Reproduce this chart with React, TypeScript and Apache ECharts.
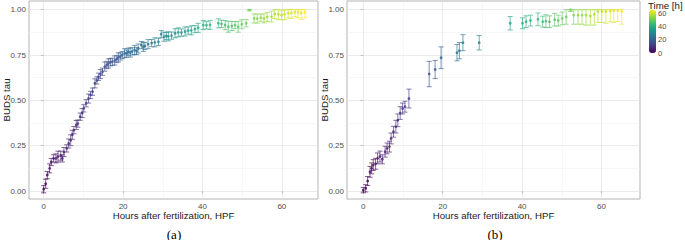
import React, { useEffect, useRef } from 'react';
import * as echarts from 'echarts';

// ---- Panel (a) data: hours after fertilization, BUDS tau, error half-width
const hoursA = [0, 0.5, 0.9, 1.5, 1.9, 2.5, 3.1, 3.6, 4.3, 4.7, 5.1, 5.8, 6.3, 6.8, 7.2, 7.6, 8.2, 8.6, 9.2, 9.7, 10.1, 10.7, 11.3, 11.8, 12.3, 12.9, 13.4, 13.8, 14.3, 14.8, 15.4, 15.9, 16.3, 16.8, 17.3, 17.9, 18.4, 18.8, 19.3, 19.8, 20.4, 20.9, 21.3, 21.8, 22.3, 22.9, 23.4, 23.8, 24.6, 25.1, 25.5, 26.3, 27.2, 28.0, 28.9, 29.6, 30.3, 30.9, 31.4, 32.2, 33.1, 33.9, 34.7, 35.6, 36.4, 37.2, 38.1, 38.9, 40.2, 41.0, 41.9, 44.0, 44.8, 45.7, 46.5, 47.4, 48.2, 49.0, 49.9, 51.0, 51.8, 53.0, 53.8, 54.7, 55.5, 56.3, 57.4, 58.2, 59.1, 59.9, 60.7, 61.6, 62.4, 63.3, 64.1, 64.9, 65.8];
const tauA = [0.01, 0.04, 0.088, 0.125, 0.16, 0.18, 0.18, 0.19, 0.195, 0.18, 0.215, 0.235, 0.262, 0.28, 0.31, 0.336, 0.364, 0.372, 0.41, 0.43, 0.456, 0.484, 0.51, 0.53, 0.548, 0.594, 0.61, 0.63, 0.645, 0.658, 0.686, 0.695, 0.704, 0.71, 0.713, 0.72, 0.728, 0.737, 0.742, 0.75, 0.76, 0.758, 0.768, 0.764, 0.77, 0.778, 0.772, 0.786, 0.805, 0.795, 0.8, 0.81, 0.816, 0.82, 0.823, 0.865, 0.851, 0.855, 0.853, 0.857, 0.87, 0.875, 0.874, 0.88, 0.885, 0.886, 0.893, 0.9, 0.915, 0.914, 0.916, 0.925, 0.922, 0.915, 0.906, 0.91, 0.915, 0.906, 0.92, 0.925, 0.998, 0.952, 0.951, 0.956, 0.952, 0.96, 0.962, 0.976, 0.975, 0.97, 0.975, 0.98, 0.982, 0.986, 0.985, 0.982, 0.986];
const errA = [0.02, 0.025, 0.02, 0.025, 0.02, 0.02, 0.025, 0.03, 0.025, 0.02, 0.025, 0.02, 0.025, 0.03, 0.025, 0.02, 0.025, 0.02, 0.02, 0.025, 0.02, 0.02, 0.025, 0.02, 0.02, 0.025, 0.02, 0.02, 0.025, 0.02, 0.025, 0.02, 0.025, 0.02, 0.02, 0.025, 0.02, 0.025, 0.02, 0.02, 0.025, 0.02, 0.02, 0.025, 0.02, 0.025, 0.02, 0.025, 0.02, 0.025, 0.02, 0.025, 0.02, 0.025, 0.02, 0.02, 0.025, 0.02, 0.025, 0.02, 0.025, 0.025, 0.02, 0.025, 0.02, 0.025, 0.02, 0.025, 0.025, 0.02, 0.025, 0.025, 0.02, 0.025, 0.03, 0.025, 0.02, 0.03, 0.025, 0.02, 0.004, 0.025, 0.025, 0.02, 0.025, 0.025, 0.03, 0.025, 0.03, 0.025, 0.03, 0.025, 0.03, 0.025, 0.03, 0.035, 0.03];

// ---- Panel (b) data
const hoursB = [0, 0.6, 1.1, 1.7, 2.1, 2.5, 3.1, 3.6, 4.2, 4.8, 5.5, 6.0, 6.6, 7.0, 7.6, 8.2, 8.7, 9.3, 9.9, 10.5, 11.5, 16.6, 18.1, 19.6, 23.6, 24.2, 25.1, 29.2, 37.0, 40.1, 41.0, 42.1, 44.0, 45.2, 46.0, 46.9, 48.2, 49.1, 50.1, 51.1, 52.2, 53.0, 54.1, 55.1, 56.1, 57.2, 58.2, 59.1, 60.1, 61.1, 62.2, 63.1, 64.1, 65.1];
const tauB = [0.005, 0.015, 0.055, 0.106, 0.125, 0.143, 0.15, 0.18, 0.19, 0.175, 0.217, 0.235, 0.245, 0.29, 0.327, 0.355, 0.39, 0.43, 0.455, 0.465, 0.51, 0.645, 0.67, 0.735, 0.763, 0.774, 0.818, 0.818, 0.925, 0.925, 0.934, 0.94, 0.947, 0.934, 0.937, 0.934, 0.945, 0.94, 0.952, 0.96, 1.0, 0.97, 0.97, 0.97, 0.97, 0.965, 0.975, 0.99, 0.99, 0.99, 0.993, 0.995, 0.995, 0.99];
const errB = [0.015, 0.02, 0.025, 0.03, 0.03, 0.03, 0.03, 0.03, 0.03, 0.025, 0.03, 0.03, 0.03, 0.03, 0.03, 0.035, 0.035, 0.035, 0.03, 0.03, 0.052, 0.07, 0.05, 0.06, 0.045, 0.045, 0.044, 0.04, 0.037, 0.03, 0.032, 0.03, 0.035, 0.03, 0.035, 0.032, 0.035, 0.03, 0.035, 0.04, 0.01, 0.05, 0.05, 0.05, 0.055, 0.05, 0.06, 0.06, 0.06, 0.065, 0.06, 0.065, 0.06, 0.07];

// ---- Ticks
const xMajorTicks = [0, 20, 40, 60];
const xMinorTicks = [10, 30, 50];
const yMajorTicks = [0, 0.25, 0.5, 0.75, 1];
const yMinorTicks = [0.125, 0.375, 0.625, 0.875];
const timeTicks = [0, 20, 40, 60];
const timeRange = [0, 66];

const viridis = ['#440154', '#482878', '#3E4A89', '#31688E', '#26828E', '#1F9E89', '#35B779', '#6DCD59', '#B4DE2C', '#FDE725'];

const FONT = 'Liberation Sans, Arial, sans-serif';

function rows(h: number[], t: number[], e: number[]) {
  return h.map((x, i) => [x, t[i], t[i] - e[i], Math.min(1, t[i] + e[i])]);
}

const renderErrorBar = (params: any, api: any) => {
  const x = api.value(0);
  const lo = api.coord([x, api.value(2)]);
  const hi = api.coord([x, api.value(3)]);
  const hw = api.size([0.65, 0])[0];
  const style = { stroke: api.visual('color'), lineWidth: 1, opacity: 0.65, fill: null };
  return {
    type: 'group',
    children: [
      { type: 'line', shape: { x1: lo[0], y1: lo[1], x2: hi[0], y2: hi[1] }, style },
      { type: 'line', shape: { x1: lo[0] - hw, y1: lo[1], x2: lo[0] + hw, y2: lo[1] }, style },
      { type: 'line', shape: { x1: hi[0] - hw, y1: hi[1], x2: hi[0] + hw, y2: hi[1] }, style },
    ],
  };
};

const majorX = (grid: number, min: number, max: number) => ({
  type: 'value', gridIndex: grid, min, max, position: 'bottom',
  axisLine: { show: false },
  axisTick: { show: true, length: 2.5, lineStyle: { color: '#b3b3b3', width: 0.8 }, customValues: xMajorTicks },
  axisLabel: { customValues: xMajorTicks, fontSize: 8, color: '#4d4d4d', margin: 3, fontFamily: FONT },
  splitLine: { show: true, lineStyle: { color: '#e3e3e3', width: 0.7 } },
  name: 'Hours after fertilization, HPF', nameLocation: 'middle', nameGap: 11, nameMoveOverlap: false,
  nameTextStyle: { fontSize: 9.7, color: '#1a1a1a', fontFamily: FONT },
});
const minorX = (grid: number, min: number, max: number) => ({
  type: 'value', gridIndex: grid, min, max, position: 'top',
  axisLine: { show: false },
  axisTick: { show: false, customValues: xMinorTicks },
  axisLabel: { show: false },
  splitLine: { show: true, lineStyle: { color: '#eeeeee', width: 0.5 } },
});
const majorY = (grid: number, gap: number) => ({
  type: 'value', gridIndex: grid, min: -0.044, max: 1.048, position: 'left',
  axisLine: { show: false },
  axisTick: { show: true, length: 2.5, lineStyle: { color: '#b3b3b3', width: 0.8 }, customValues: yMajorTicks },
  axisLabel: { customValues: yMajorTicks, fontSize: 8, color: '#4d4d4d', margin: 3, fontFamily: FONT, formatter: (v: number) => v.toFixed(2) },
  splitLine: { show: true, lineStyle: { color: '#e3e3e3', width: 0.7 } },
  name: 'BUDS tau', nameLocation: 'middle', nameGap: gap, nameMoveOverlap: false,
  nameTextStyle: { fontSize: 9.7, color: '#1a1a1a', fontFamily: FONT },
});
const minorY = (grid: number) => ({
  type: 'value', gridIndex: grid, min: -0.044, max: 1.048, position: 'right',
  axisLine: { show: false },
  axisTick: { show: false, customValues: yMinorTicks },
  axisLabel: { show: false },
  splitLine: { show: true, lineStyle: { color: '#eeeeee', width: 0.5 } },
});

export default function App() {
  const ref = useRef<HTMLDivElement>(null);
  useEffect(() => {
    if (!ref.current) return;
    const chart = echarts.init(ref.current, null, { renderer: 'svg' });
    const dataA = rows(hoursA, tauA, errA);
    const dataB = rows(hoursB, tauB, errB);
    const gridStyle = { show: true, borderColor: '#b3b3b3', borderWidth: 1, backgroundColor: '#ffffff', containLabel: false, outerBoundsMode: 'none' };
    chart.setOption({
      animation: false,
      backgroundColor: '#ffffff',
      textStyle: { fontFamily: FONT },
      title: {
        text: 'Time [h]', left: 648, top: 0, padding: 0,
        textStyle: { fontSize: 9.7, fontWeight: 'normal', color: '#1a1a1a', fontFamily: FONT },
      },
      grid: [
        { left: 29, top: 1, width: 289, height: 198, ...gridStyle },
        { left: 347, top: 1, width: 293, height: 198, ...gridStyle },
        { left: 649, top: 10, width: 7, height: 43, show: false, containLabel: false, outerBoundsMode: 'none' },
      ],
      xAxis: [
        majorX(0, -3.7, 69.1),
        minorX(0, -3.7, 69.1),
        majorX(1, -4.1, 69.7),
        minorX(1, -4.1, 69.7),
        { type: 'value', gridIndex: 2, show: false, min: 0, max: 1 },
      ],
      yAxis: [
        majorY(0, 18),
        minorY(0),
        majorY(1, 17.5),
        minorY(1),
        {
          type: 'value', gridIndex: 2, min: timeRange[0], max: timeRange[1], position: 'right',
          axisLine: { show: false }, axisTick: { show: false }, splitLine: { show: false },
          axisLabel: { customValues: timeTicks, fontSize: 7.5, color: '#4d4d4d', margin: 2, fontFamily: FONT },
        },
      ],
      visualMap: {
        type: 'continuous', min: timeRange[0], max: timeRange[1], dimension: 0,
        seriesIndex: [0, 1, 2, 3], calculable: false, hoverLink: false,
        orient: 'vertical', left: 649, top: 10, itemWidth: 7, itemHeight: 43, padding: 0,
        inRange: { color: viridis },
      },
      series: [
        { type: 'custom', xAxisIndex: 0, yAxisIndex: 0, data: dataA, renderItem: renderErrorBar, encode: { x: 0, y: [2, 3] }, silent: true, clip: false },
        { type: 'scatter', xAxisIndex: 0, yAxisIndex: 0, data: dataA.map((d) => [d[0], d[1]]), symbol: 'circle', symbolSize: 2.8, silent: true },
        { type: 'custom', xAxisIndex: 2, yAxisIndex: 2, data: dataB, renderItem: renderErrorBar, encode: { x: 0, y: [2, 3] }, silent: true, clip: false },
        { type: 'scatter', xAxisIndex: 2, yAxisIndex: 2, data: dataB.map((d) => [d[0], d[1]]), symbol: 'circle', symbolSize: 2.8, silent: true },
      ],
      graphic: [
        { type: 'text', x: 174, y: 234, style: { text: '(a)', fontSize: 13, fontFamily: 'Liberation Serif, serif', fill: '#000', textAlign: 'center', textVerticalAlign: 'middle' } },
        { type: 'text', x: 495, y: 234, style: { text: '(b)', fontSize: 13, fontFamily: 'Liberation Serif, serif', fill: '#000', textAlign: 'center', textVerticalAlign: 'middle' } },
      ],
    });
    return () => chart.dispose();
  }, []);
  return <div ref={ref} style={{ position: 'fixed', left: 0, top: 0, width: 685, height: 240 }} />;
}
